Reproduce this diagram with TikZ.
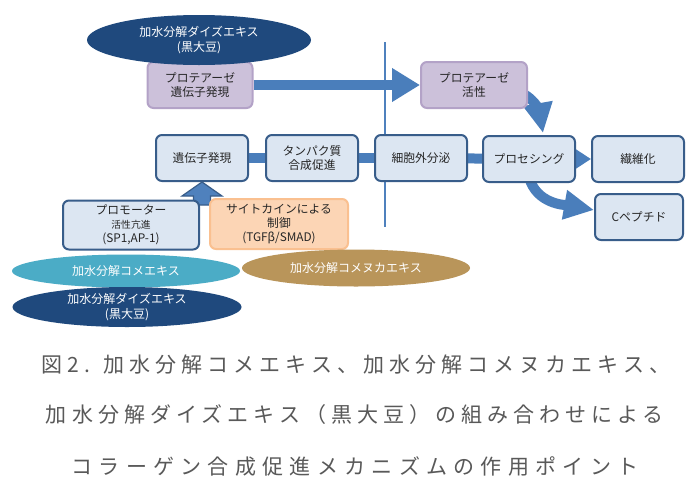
\documentclass[tikz,border=0pt]{standalone}
\usepackage{fontspec}
\setmainfont{Noto Sans CJK JP}
\newfontfamily\capfont[LetterSpace=24]{Noto Sans CJK JP}
\newfontfamily\capfontwide[LetterSpace=30]{Noto Sans CJK JP}
\usetikzlibrary{arrows.meta,shapes.geometric}
\definecolor{boxfill}{HTML}{DCE6F2}
\definecolor{boxline}{HTML}{385D8A}
\definecolor{purfill}{HTML}{CCC1DA}
\definecolor{purline}{HTML}{B3A2C7}
\definecolor{orfill}{HTML}{FCD5B5}
\definecolor{orline}{HTML}{FAC090}
\definecolor{flow}{HTML}{4A7EBB}
\definecolor{flowfill}{HTML}{4F81BD}
\definecolor{navyell}{HTML}{1F497D}
\definecolor{cyanell}{HTML}{4BACC6}
\definecolor{tanell}{HTML}{B9955A}
\definecolor{captext}{HTML}{595959}
\definecolor{boxtext}{HTML}{262626}
\pgfdeclarelayer{back}
\pgfdeclarelayer{bg}
\pgfsetlayers{back,bg,main}
\begin{document}
\begin{tikzpicture}[x=1pt,y=-1pt,
  stepbox/.style={draw=boxline, fill=boxfill, line width=2pt, rounded corners=6pt,
    minimum width=92pt, minimum height=46pt, align=center, inner sep=2pt,
    font=\fontsize{11.8}{14}\selectfont, text=boxtext},
  purbox/.style={stepbox, draw=purline, fill=purfill},
  orbox/.style={stepbox, draw=orline, fill=orfill},
  ell/.style={ellipse, inner sep=0pt, align=center, text=white,
    font=\fontsize{12}{14.5}\selectfont},
  bar/.style={draw=flow, line width=10pt},
  bigarrow/.style={bar, -{Triangle[length=28pt,width=32pt]}},
  curvearrow/.style={bar, -{Triangle[length=30pt,width=28pt]}},
  smallarrow/.style={bar, -{Triangle[length=18pt,width=22pt]}},
  blockarrow/.style={draw=boxline, fill=flowfill, line width=1.2pt, line join=miter},
  vline/.style={draw=flowfill, line width=2.5pt},
  captionstyle/.style={font=\capfont\fontsize{21}{21}\selectfont, text=captext, inner sep=0pt}
]
\begin{pgfonlayer}{back}
\useasboundingbox[fill=white] (0,0) rectangle (700,496);
\end{pgfonlayer}

% top row
\node[purbox, minimum width=105pt] (pg) at (200,85) {プロテアーゼ\\遺伝子発現};
\node[purbox, minimum width=106pt] (pa) at (474,85) {プロテアーゼ\\活性};
\node[ell, fill=navyell, minimum width=224pt, minimum height=50pt] (e1) at (199,40) {加水分解ダイズエキス\\(黒大豆)};

% main row
\node[stepbox] (ge) at (202,158) {遺伝子発現};
\node[stepbox] (ps) at (312,158) {タンパク質\\合成促進};
\node[stepbox] (ex) at (421,158) {細胞外分泌};
\node[stepbox] (pr) at (529,159) {プロセシング};
\node[stepbox] (fi) at (638,159) {繊維化};
\node[stepbox, minimum width=88pt] (cp) at (639,217) {Cペプチド};

% up block arrow
\draw[blockarrow] (ge.south) -- ++(20,14) -- ++(-11.5,0) -- ++(0,9) -- ++(-17,0) -- ++(0,-9) -- ++(-11.5,0) -- cycle;

% lower boxes
\node[stepbox, minimum width=136pt, minimum height=49pt] (pm) at (131,225)
  {プロモーター\\{\fontsize{9.8}{12}\selectfont 活性亢進}\\(SP1,AP-1)};
\node[orbox, minimum width=138pt, minimum height=50pt] (cy) at (279,224)
  {サイトカインによる\\制御\\(TGFβ/SMAD)};

% ellipses
\node[ell, fill=cyanell, minimum width=228pt, minimum height=33pt] (e2) at (126,271) {加水分解コメエキス};
\node[ell, fill=navyell, minimum width=229pt, minimum height=40pt] (e3) at (127,307) {加水分解ダイズエキス\\(黒大豆)};
\node[ell, fill=tanell, minimum width=228pt, minimum height=37pt] (e4) at (356,268) {加水分解コメヌカエキス};

% connectors behind
\begin{pgfonlayer}{bg}
\draw[vline] (385,42) -- (385,227);
\draw[bigarrow] (pg) -- (pa);
\draw[bar] (ge) -- (ps);
\draw[bar] (ps) -- (ex);
\draw[bar] (ex) -- (pr);
\draw[smallarrow] (pr) -- (fi);
\draw[curvearrow] ([xshift=-12pt,yshift=-6pt]pa.east) to[out=-15,in=100] ([xshift=14pt,yshift=2pt]pr.north);
\draw[curvearrow] ([yshift=6pt]pr.south) to[out=-75,in=170] ([yshift=7pt]cp.west);
\end{pgfonlayer}

% caption
\node[captionstyle] (c1) at (356,365) {図2. 加水分解コメエキス、加水分解コメヌカエキス、};
\node[captionstyle] (c2) at (355,415) {加水分解ダイズエキス（黒大豆）の組み合わせによる};
\node[captionstyle, font=\capfontwide\fontsize{21}{21}\selectfont] (c3) at (355,466) {コラーゲン合成促進メカニズムの作用ポイント};
\end{tikzpicture}
\end{document}
